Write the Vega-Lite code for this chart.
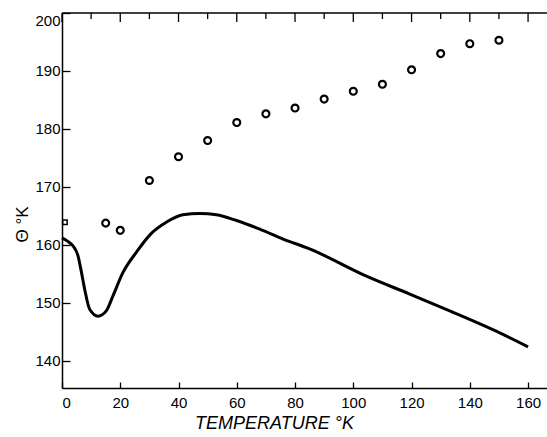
{
  "$schema": "https://vega.github.io/schema/vega-lite/v6.json",
  "width": 485,
  "height": 375,
  "autosize": {"type": "none"},
  "padding": {"left": 62, "top": 13, "right": 0, "bottom": 49},
  "background": "white",
  "config": {
    "view": {"stroke": null},
    "axis": {
      "domainColor": "black",
      "domainWidth": 1.5,
      "tickColor": "black",
      "tickWidth": 1.3,
      "grid": false,
      "labelFont": "Liberation Sans",
      "labelFontSize": 15,
      "labelColor": "black",
      "titleFont": "Liberation Sans",
      "titleColor": "black",
      "titleFontWeight": "normal"
    }
  },
  "datasets": {
    "curve": [
      {"t": 0, "theta": 161.2},
      {"t": 2, "theta": 160.6},
      {"t": 3.8, "theta": 159.8},
      {"t": 5.5, "theta": 158.1},
      {"t": 6.7, "theta": 155.2},
      {"t": 7.8, "theta": 152.3},
      {"t": 9.5, "theta": 148.9},
      {"t": 12.4, "theta": 147.7},
      {"t": 15.2, "theta": 148.6},
      {"t": 17.5, "theta": 151.2},
      {"t": 20.9, "theta": 155.2},
      {"t": 25.5, "theta": 158.7},
      {"t": 30.5, "theta": 161.9},
      {"t": 35.8, "theta": 163.9},
      {"t": 41.5, "theta": 165.2},
      {"t": 47.3, "theta": 165.4},
      {"t": 53, "theta": 165.2},
      {"t": 59.9, "theta": 164.2},
      {"t": 67.9, "theta": 162.7},
      {"t": 75.9, "theta": 161.0},
      {"t": 85, "theta": 159.3},
      {"t": 104.5, "theta": 154.6},
      {"t": 119.4, "theta": 151.5},
      {"t": 133.1, "theta": 148.6},
      {"t": 150.3, "theta": 144.8},
      {"t": 160, "theta": 142.4}
    ],
    "points": [
      {"t": 15, "theta": 163.75},
      {"t": 20, "theta": 162.5},
      {"t": 30, "theta": 171.1},
      {"t": 40, "theta": 175.2},
      {"t": 50, "theta": 178.0},
      {"t": 60, "theta": 181.1},
      {"t": 70, "theta": 182.6},
      {"t": 80, "theta": 183.6},
      {"t": 90, "theta": 185.15},
      {"t": 100, "theta": 186.5},
      {"t": 110, "theta": 187.7},
      {"t": 120, "theta": 190.2},
      {"t": 130, "theta": 193.0},
      {"t": 140, "theta": 194.7},
      {"t": 150, "theta": 195.3}
    ],
    "zero": [
      {"t": 1, "theta": 163.9}
    ],
    "topMajor": [
      {"t": 0}, {"t": 20}, {"t": 40}, {"t": 60}, {"t": 80}, {"t": 100}, {"t": 120}, {"t": 140}, {"t": 160}
    ],
    "topMinor": [
      {"t": 10}, {"t": 30}, {"t": 50}, {"t": 70}, {"t": 90}, {"t": 110}, {"t": 130}, {"t": 150}
    ]
  },
  "layer": [
    {
      "data": {"name": "curve"},
      "mark": {"type": "line", "color": "black", "strokeWidth": 3, "interpolate": "monotone"},
      "encoding": {
        "x": {
          "field": "t", "type": "quantitative",
          "scale": {"domain": [0, 166.5], "nice": false, "zero": false},
          "axis": {
            "orient": "bottom",
            "values": [0, 10, 20, 30, 40, 50, 60, 70, 80, 90, 100, 110, 120, 130, 140, 150, 160],
            "labelExpr": "datum.value % 20 === 0 ? datum.label : ''",
            "tickSize": -6,
            "labelPadding": 13,
            "title": "TEMPERATURE °K",
            "titleFontSize": 18,
            "titleFontStyle": "italic",
            "titleBaseline": "alphabetic",
            "titleAnchor": "start",
            "titleAlign": "center",
            "titleX": 212,
            "titleY": 40
          }
        },
        "y": {
          "field": "theta", "type": "quantitative",
          "scale": {"domain": [135.3, 200], "nice": false, "zero": false},
          "axis": {
            "orient": "left",
            "values": [140, 145, 150, 155, 160, 165, 170, 175, 180, 185, 190, 195, 200],
            "labelExpr": "datum.value % 10 === 0 ? datum.label : ''",
            "tickSize": -8,
            "labelPadding": 10,
            "labelFlush": true,
            "title": "Θ °K",
            "titleFontSize": 17,
            "titleAngle": -90,
            "titleAlign": "center",
            "titleBaseline": "middle",
            "titleAnchor": "start",
            "titleX": -40,
            "titleY": 211
          }
        }
      }
    },
    {
      "data": {"name": "points"},
      "mark": {"type": "point", "shape": "circle", "filled": false, "color": "black", "strokeWidth": 2.2, "size": 48, "opacity": 1},
      "encoding": {
        "x": {"field": "t", "type": "quantitative"},
        "y": {"field": "theta", "type": "quantitative"}
      }
    },
    {
      "data": {"name": "zero"},
      "mark": {"type": "point", "shape": "square", "filled": false, "color": "black", "strokeWidth": 1.5, "size": 20, "opacity": 1},
      "encoding": {
        "x": {"field": "t", "type": "quantitative"},
        "y": {"field": "theta", "type": "quantitative"}
      }
    },
    {
      "data": {"values": [{"v": 200}]},
      "mark": {"type": "rule", "color": "black", "strokeWidth": 1.5},
      "encoding": {"y": {"field": "v", "type": "quantitative"}}
    },
    {
      "data": {"name": "topMajor"},
      "mark": {"type": "tick", "orient": "vertical", "color": "black", "thickness": 1.3, "size": 9, "yOffset": 4.5, "opacity": 1},
      "encoding": {
        "x": {"field": "t", "type": "quantitative"},
        "y": {"datum": 200}
      }
    },
    {
      "data": {"name": "topMinor"},
      "mark": {"type": "tick", "orient": "vertical", "color": "black", "thickness": 1.3, "size": 6, "yOffset": 3, "opacity": 1},
      "encoding": {
        "x": {"field": "t", "type": "quantitative"},
        "y": {"datum": 200}
      }
    }
  ]
}
